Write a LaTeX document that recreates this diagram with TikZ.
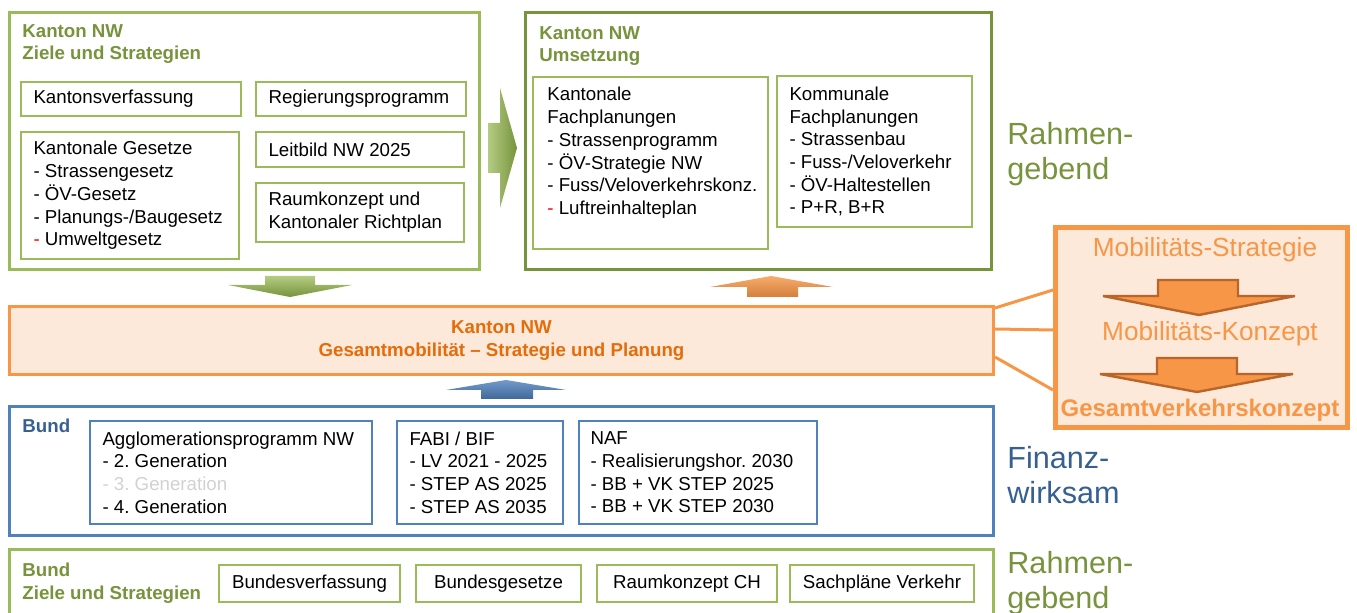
\documentclass[tikz,border=0pt]{standalone}
\usepackage{fontspec}
\setmainfont{Liberation Sans}
\usepackage{tikz}
\frenchspacing
\definecolor{grnL}{HTML}{9BBB59}
\definecolor{grnD}{HTML}{77933C}
\definecolor{orgL}{HTML}{F79646}
\definecolor{orgD}{HTML}{E46C0A}
\definecolor{orgF}{HTML}{FDE9D9}
\definecolor{orgB}{HTML}{B7652B}
\definecolor{bluL}{HTML}{4F81BD}
\definecolor{bluD}{HTML}{376092}
\newcommand{\normtext}{\fontsize{9.35}{11.35}\selectfont}
\tikzstyle{frameStyle}=[draw, line width=1.5pt, inner sep=0pt]
\tikzstyle{itemStyle}=[draw, line width=0.9pt, inner sep=0pt]
\tikzstyle{listStyle}=[inner sep=0pt, align=left, anchor=west, font=\normtext]

\begin{document}
\begin{tikzpicture}[x=0.5pt, y=-0.5pt]
\tikzstyle{titleStyle}=[inner sep=0pt, align=left, anchor=north west, font=\normtext\bfseries]
\tikzstyle{sideStyle}=[inner sep=0pt, align=left, anchor=west, font=\fontsize{15.3}{17.5}\selectfont]
\tikzstyle{tagStyle}=[draw, line width=0.9pt, inner sep=0pt, font=\normtext]
\tikzstyle{linkStyle}=[draw=orgL, line width=1.5pt]
\tikzstyle{fatArrow}=[fill=orgL, draw=orgB, line width=1.2pt]
\useasboundingbox (0,0) rectangle (1357,613);
% Kanton NW: Ziele und Strategien
\node[frameStyle, draw=grnL, minimum width=235pt, minimum height=128.5pt] (zielKt) at (244.5,141) {};
\node[titleStyle, text=grnD] (zielKtT) at (22,24) {Kanton NW\\Ziele und Strategien};
\node[itemStyle, draw=grnL, minimum width=110pt, minimum height=17pt] (kvf) at (131,99) {};
\node[listStyle] (kvfT) at ([xshift=6.5pt]kvf.west) {Kantonsverfassung};
\node[itemStyle, draw=grnL, minimum width=105pt, minimum height=17pt] (rgp) at (361,99) {};
\node[listStyle] (rgpT) at ([xshift=6.5pt]rgp.west) {Regierungsprogramm};
\node[itemStyle, draw=grnL, minimum width=109pt, minimum height=63.5pt] (kgs) at (130,195.5) {};
\node[listStyle] (kgsT) at ([xshift=6.5pt]kgs.west) {Kantonale Gesetze\\- Strassengesetz\\- ÖV-Gesetz\\- Planungs-/Baugesetz\\{\color{red}-} Umweltgesetz};
\node[itemStyle, draw=grnL, minimum width=104pt, minimum height=17.5pt] (lbd) at (360,149.5) {};
\node[listStyle] (lbdT) at ([xshift=6.5pt]lbd.west) {Leitbild NW 2025};
\node[itemStyle, draw=grnL, minimum width=104pt, minimum height=29.5pt] (rkr) at (360,212.5) {};
\node[listStyle] (rkrT) at ([xshift=6.5pt]rkr.west) {Raumkonzept und\\Kantonaler Richtplan};
% Kanton NW: Umsetzung
\node[frameStyle, draw=grnD, minimum width=233pt, minimum height=128.5pt] (umsKt) at (758.5,141) {};
\node[titleStyle, text=grnD] (umsKtT) at (539,26) {Kanton NW\\Umsetzung};
\node[itemStyle, draw=grnL, minimum width=117.5pt, minimum height=86pt] (kfp) at (650.5,163) {};
\node[listStyle, anchor=north west] (kfpT) at (547,87) {Kantonale\\Fachplanungen\\- Strassenprogramm\\- ÖV-Strategie NW\\- Fuss/Veloverkehrskonz.\\{\color{red}-} Luftreinhalteplan};
\node[itemStyle, draw=grnL, minimum width=97.5pt, minimum height=75.5pt] (kop) at (874.5,151.5) {};
\node[listStyle] (kopT) at ([xshift=6.5pt]kop.west) {Kommunale\\Fachplanungen\\- Strassenbau\\- Fuss-/Veloverkehr\\- ÖV-Haltestellen\\- P+R, B+R};
% Gesamtmobilitaet
\node[frameStyle, draw=orgL, fill=orgF, minimum width=492pt, minimum height=34pt, align=center, text=orgD, font=\normtext\bfseries] (gmb) at (501.5,340.5) {Kanton NW\\Gesamtmobilität -- Strategie und Planung};
% Mobilitaet rechts
\node[frameStyle, draw=orgL, fill=orgF, line width=2.5pt, minimum width=146pt, minimum height=100pt] (mob) at (1201.5,327.5) {};
\node[inner sep=0pt, text=orgL, font=\fontsize{13.1}{15}\selectfont] (mobS) at (1205,250) {Mobilitäts-Strategie};
\node[inner sep=0pt, text=orgL, font=\fontsize{13.1}{15}\selectfont] (mobK) at (1210,334) {Mobilitäts-Konzept};
\node[inner sep=0pt, text=orgL, font=\fontsize{12}{14}\selectfont\bfseries] (mobG) at (1200,410) {Gesamtverkehrskonzept};
\draw[fatArrow] (1158,280) -- (1238,280) -- (1238,296) -- (1295,296) -- (1199,315) -- (1103,296) -- (1158,296) -- cycle;
\draw[fatArrow] (1157,358) -- (1237,358) -- (1237,374) -- (1293,374) -- (1197,392) -- (1100,374) -- (1157,374) -- cycle;
\draw[linkStyle] (gmb.east |- 0,308) -- (mob.west |- 0,290);
\draw[linkStyle] (gmb.east |- 0,329) -- (mob.west |- 0,330);
\draw[linkStyle] (gmb.east |- 0,357) -- (mob.west |- 0,390);
% Bund: finanzwirksam
\node[frameStyle, draw=bluL, minimum width=492pt, minimum height=64.5pt] (bund) at (501.5,471) {};
\node[inner sep=0pt, anchor=west, text=bluD, font=\normtext\bfseries] (bundT) at (22,426) {Bund};
\node[itemStyle, draw=bluL, minimum width=141pt, minimum height=51.5pt] (agg) at (231,472.5) {};
\node[listStyle] (aggT) at ([xshift=6.5pt]agg.west) {Agglomerationsprogramm NW\\- 2. Generation\\{\color{black!18}- 3. Generation}\\- 4. Generation};
\node[itemStyle, draw=bluL, minimum width=83pt, minimum height=51.5pt] (fabi) at (480,472.5) {};
\node[listStyle] (fabiT) at ([xshift=6.5pt]fabi.west) {FABI / BIF\\- LV 2021 - 2025\\- STEP AS 2025\\- STEP AS 2035};
\node[itemStyle, draw=bluL, minimum width=119pt, minimum height=51.5pt] (naf) at (698,472.5) {};
\node[listStyle] (nafT) at ([xshift=6pt]naf.west) {NAF\\- Realisierungshor. 2030\\- BB + VK STEP 2025\\- BB + VK STEP 2030};
% Bund: Ziele und Strategien
\node[frameStyle, draw=grnL, minimum width=492pt, minimum height=40pt] (zielBd) at (501.5,589.5) {};
\node[titleStyle, text=grnD] (zielBdT) at (22,563) {Bund\\Ziele und Strategien};
\node[tagStyle, draw=grnL, minimum width=90.5pt, minimum height=18.5pt] (bvf) at (309.5,583.5) {Bundesverfassung};
\node[tagStyle, draw=grnL, minimum width=82.5pt, minimum height=18.5pt] (bgs) at (498.5,583.5) {Bundesgesetze};
\node[tagStyle, draw=grnL, minimum width=90pt, minimum height=18.5pt] (rch) at (687,583.5) {Raumkonzept CH};
\node[tagStyle, draw=grnL, minimum width=92pt, minimum height=18.5pt] (spv) at (882,583.5) {Sachpläne Verkehr};
% Blockpfeile
\path[top color=grnL!75!white, bottom color=grnD] (265,276) -- (315,276) -- (315,285) -- (352,285) -- (290,297) -- (228,285) -- (265,285) -- cycle;
\path[top color=orgL!80!white, bottom color=orgL!85!black] (771,276) -- (833,287) -- (798,287) -- (798,297) -- (747,297) -- (747,287) -- (710,287) -- cycle;
\path[top color=bluL!80!white, bottom color=bluL!80!black] (506,380) -- (566,390) -- (533,390) -- (533,399) -- (481,399) -- (481,390) -- (446,390) -- cycle;
\path[left color=grnL!75!white, right color=grnD] (488,123) -- (500,123) -- (500,88) -- (517,148) -- (500,208) -- (500,173) -- (488,173) -- cycle;
% Seitentexte
\node[sideStyle, text=grnD] (rahmenA) at (1007,154.5) {Rahmen-\\gebend};
\node[sideStyle, text=bluD] (finanz) at (1007,475) {Finanz-\\wirksam};
\node[sideStyle, text=grnD] (rahmenB) at (1007,583.5) {Rahmen-\\gebend};
\end{tikzpicture}
\end{document}
